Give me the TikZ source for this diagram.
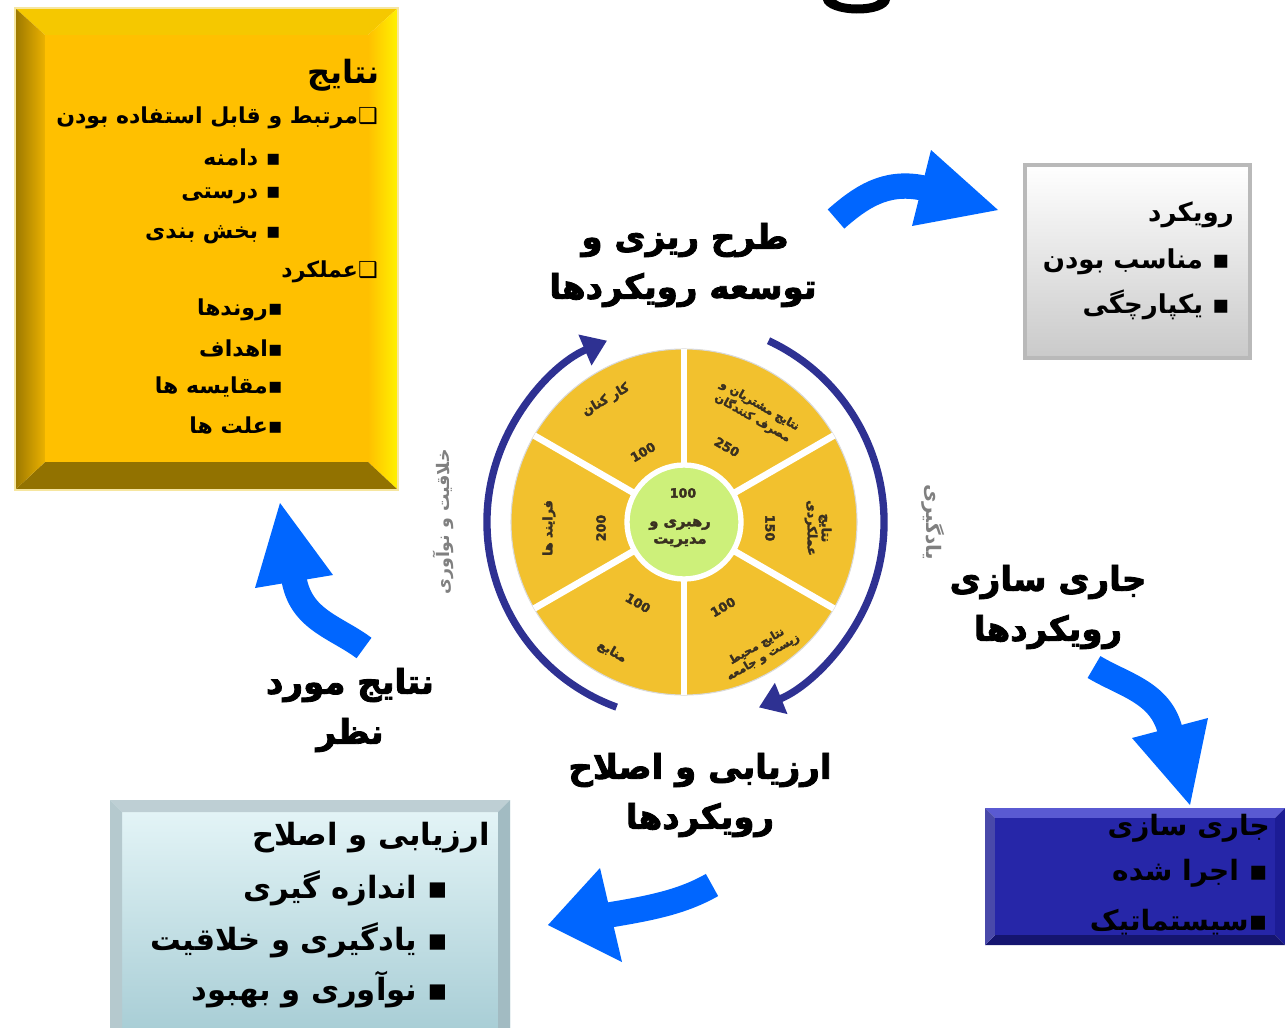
\documentclass[tikz,border=0pt]{standalone}
\usepackage{fontspec}
\usetikzlibrary{positioning, arrows.meta}
\TeXXeTstate=1
\newfontfamily\farsi[Script=Arabic]{DejaVu Sans}
\newfontfamily\farsiheavy[Script=Arabic, FakeBold=2.5]{DejaVu Sans Bold}
\newfontfamily\symb[BoldFont={DejaVu Sans}]{DejaVu Sans}
\newcommand{\fatxt}[1]{{\farsi\bfseries\beginR #1\endR}}
\newcommand{\heavytxt}[1]{{\farsiheavy\beginR #1\endR}}

\definecolor{goldfill}{HTML}{FFC000}
\definecolor{goldtop}{HTML}{F5C800}
\definecolor{goldleft}{HTML}{9C7800}
\definecolor{goldright}{HTML}{FFF200}
\definecolor{goldbottom}{HTML}{927200}
\definecolor{goldedge}{HTML}{F6E6A0}
\definecolor{bluefill}{HTML}{2626A8}
\definecolor{bluetop}{HTML}{5A5AD2}
\definecolor{blueside}{HTML}{1C1C95}
\definecolor{bluebottom}{HTML}{151570}
\definecolor{cyantop}{HTML}{E6F6F8}
\definecolor{cyanbottom}{HTML}{A9CED6}
\definecolor{cyanside}{HTML}{A2BBC2}
\definecolor{arrowblue}{HTML}{0066FF}
\definecolor{ringblue}{HTML}{2E3192}
\definecolor{wheelgold}{HTML}{F2C12E}
\definecolor{hubgreen}{HTML}{CDF07A}
\definecolor{wheelink}{HTML}{3A3020}

\tikzset{
boxtext/.style={anchor=east, inner sep=0pt, font=\fontsize{16.5}{19}\selectfont}, % lines in the boxes
bigtitle/.style={inner sep=0pt, font=\fontsize{25.5}{30}\selectfont}, % the four stage names
wheeltext/.style={inner sep=0pt, align=center, text=wheelink, font=\fontsize{9.5}{10.5}\selectfont},
sidetext/.style={inner sep=0pt, text=gray, font=\fontsize{13}{14}\selectfont},
spoke/.style={draw=white, line width=5pt},
cyclearc/.style={draw=ringblue, line width=5.5pt, -{Triangle[width=24pt,length=18pt]}},
blockband/.style={draw=arrowblue, line width=19pt}, % body of the big blue arrows
blockhead/.style={fill=arrowblue},
}

\begin{document}
\begin{tikzpicture}[x=0.75pt, y=-0.75pt] % one unit = one pixel, y downwards
\useasboundingbox (0,0) rectangle (1285,1028);

% cut title at the top
\fill (823,0) .. controls (826,17) and (887,19) .. (890,0) -- (878,0) .. controls (872,6) and (842,6) .. (836,0) -- cycle;

% results box
\fill[goldtop] (15,8) -- (398,8) -- (368,35) -- (45,35) -- cycle;
\shade[left color=goldfill, right color=goldright] (398,8) -- (398,490) -- (368,462) -- (368,35) -- cycle;
\fill[goldbottom] (15,490) -- (398,490) -- (368,462) -- (45,462) -- cycle;
\shade[left color=goldleft, right color=goldfill!80!goldleft] (15,8) -- (15,490) -- (45,462) -- (45,35) -- cycle;
\fill[goldfill] (45,35) rectangle (368,462);
\draw[goldedge, line width=2pt] (15,8) rectangle (398,490);

\node[boxtext, font=\fontsize{24}{28}\selectfont] (res) at (380,75) {\fatxt{نتایج}};
\node[boxtext] (rel) at (378,118) {\fatxt{{\symb ❑}مرتبط و قابل استفاده بودن}};
\node[boxtext] (dom) at (281,157) {\fatxt{▪ دامنه}};
\node[boxtext] (acc) at (281,196) {\fatxt{▪ درستی}};
\node[boxtext] (seg) at (281,235) {\fatxt{▪ بخش بندی}};
\node[boxtext] (perf) at (378,272) {\fatxt{{\symb ❑}عملکرد}};
\node[boxtext] (trend) at (283,310) {\fatxt{▪روندها}};
\node[boxtext] (goal) at (283,348) {\fatxt{▪اهداف}};
\node[boxtext] (comp) at (283,387) {\fatxt{▪مقایسه ها}};
\node[boxtext] (cause) at (283,425) {\fatxt{▪علت ها}};

% approach box
\shade[top color=white, bottom color=gray!42] (1025,165) rectangle (1250,358);
\draw[gray!55, line width=2.5pt] (1025,165) rectangle (1250,358);
\node[boxtext, font=\fontsize{19.5}{22}\selectfont] (appr) at (1234,215) {\fatxt{رویکرد}};
\node[boxtext, font=\fontsize{19.5}{22}\selectfont] (fit) at (1230,262) {\fatxt{▪ مناسب بودن}};
\node[boxtext, font=\fontsize{19.5}{22}\selectfont] (integ) at (1230,305) {\fatxt{▪ یکپارچگی}};

% deployment box
\fill[bluetop] (985,808) -- (1285,808) -- (1275,818) -- (995,818) -- cycle;
\fill[blueside] (1285,808) -- (1285,945) -- (1275,935) -- (1275,818) -- cycle;
\fill[bluebottom] (985,945) -- (1285,945) -- (1275,935) -- (995,935) -- cycle;
\fill[blueside!80!white] (985,808) -- (985,945) -- (995,935) -- (995,818) -- cycle;
\fill[bluefill] (995,818) rectangle (1275,935);
\node[boxtext, font=\fontsize{21}{24}\selectfont] (impl) at (1270,828) {\fatxt{جاری سازی}};
\node[boxtext, font=\fontsize{21}{24}\selectfont] (done) at (1268,873) {\fatxt{▪ اجرا شده}};
\node[boxtext, font=\fontsize{21}{24}\selectfont] (syst) at (1268,922) {\fatxt{▪سیستماتیک}};

% assessment box
\shade[top color=cyantop, bottom color=cyanbottom] (110,800) rectangle (510,1028);
\fill[cyanside!70!white] (110,800) -- (510,800) -- (498,812) -- (122,812) -- cycle;
\fill[cyanside] (510,800) -- (510,1028) -- (498,1028) -- (498,812) -- cycle;
\fill[cyanside!80!white] (110,800) -- (110,1028) -- (122,1028) -- (122,812) -- cycle;
\node[boxtext, font=\fontsize{23}{26}\selectfont] (assess) at (490,838) {\fatxt{ارزیابی و اصلاح}};
\node[boxtext, font=\fontsize{23}{26}\selectfont] (meas) at (449,888) {\fatxt{▪ اندازه گیری}};
\node[boxtext, font=\fontsize{23}{26}\selectfont] (learn) at (449,940) {\fatxt{▪ یادگیری و خلاقیت}};
\node[boxtext, font=\fontsize{23}{26}\selectfont] (innov) at (449,990) {\fatxt{▪ نوآوری و بهبود}};

% stage names
\node[bigtitle] (plan) at (685,240) {\heavytxt{طرح ریزی و}};
\node[bigtitle] (plan2) at (683,290) {\heavytxt{توسعه رویکردها}};
\node[bigtitle] (deploy) at (1048,582) {\heavytxt{جاری سازی}};
\node[bigtitle] (deploy2) at (1048,632) {\heavytxt{رویکردها}};
\node[bigtitle] (review) at (700,770) {\heavytxt{ارزیابی و اصلاح}};
\node[bigtitle] (review2) at (700,820) {\heavytxt{رویکردها}};
\node[bigtitle] (target) at (350,685) {\heavytxt{نتایج مورد}};
\node[bigtitle] (target2) at (350,735) {\heavytxt{نظر}};

% big blue arrows
\coordinate (a1) at (836,219); \coordinate (a1e) at (923,188);
\draw[blockband] (a1) .. controls (860,198) and (885,180) .. (a1e);
\fill[blockhead] (931,150) -- (998,210) -- (912,226) -- cycle;
\coordinate (a2) at (1094,667); \coordinate (a2e) at (1170,730);
\draw[blockband] (a2) .. controls (1124,685) and (1160,692) .. (a2e);
\fill[blockhead] (1132,738) -- (1208,718) -- (1190,805) -- cycle;
\coordinate (a3) at (712,885); \coordinate (a3e) at (609,915);
\draw[blockband] (a3) .. controls (682,902) and (651,908) .. (a3e);
\fill[blockhead] (600,868) -- (548,925) -- (622,962) -- cycle;
\coordinate (a4) at (364,648); \coordinate (a4e) at (294,579);
\draw[blockband] (a4) .. controls (336,627) and (301,620) .. (a4e);
\fill[blockhead] (255,588) -- (280,503) -- (333,575) -- cycle;

% wheel
\coordinate (c) at (684,522);
\draw[gray!30, fill=wheelgold, line width=0.8pt] (c) circle[radius=173];
\foreach \a in {30,90,...,330}
  \draw[spoke] (c) -- ++(\a:173);
\draw[white, fill=hubgreen, line width=4pt] (c) circle[radius=57];

\node[wheeltext] (hubn) at (683,493) {\farsiheavy 100};
\node[wheeltext, font=\fontsize{11}{12}\selectfont] (hub) at (680,533) {\heavytxt{رهبری و}\\[1pt]\heavytxt{مدیریت}};
\node[wheeltext, rotate=30] (staff) at (606,400) {\heavytxt{کار کنان}};
\node[wheeltext, rotate=30] (staffn) at (643,452) {\farsiheavy 100};
\node[wheeltext, rotate=-30, font=\fontsize{8.5}{9.5}\selectfont] (cust) at (756,412) {\heavytxt{نتایج مشتریان و}\\\heavytxt{مصرف کنندگان}};
\node[wheeltext, rotate=-30] (custn) at (727,447) {\farsiheavy 250};
\node[wheeltext, rotate=-90] (key) at (818,528) {\heavytxt{نتایج}\\\heavytxt{عملکردی}};
\node[wheeltext, rotate=-90] (keyn) at (770,528) {\farsiheavy 150};
\node[wheeltext, rotate=30, font=\fontsize{8.5}{9.5}\selectfont] (soc) at (760,652) {\heavytxt{نتایج محیط}\\\heavytxt{زیست و جامعه}};
\node[wheeltext, rotate=30] (socn) at (723,607) {\farsiheavy 100};
\node[wheeltext, rotate=-30] (resrc) at (612,652) {\heavytxt{منابع}};
\node[wheeltext, rotate=-30] (resrcn) at (638,603) {\farsiheavy 100};
\node[wheeltext, rotate=90] (proc) at (549,528) {\heavytxt{فرایند ها}};
\node[wheeltext, rotate=90] (procn) at (601,528) {\farsiheavy 200};

% cycle arrows round the wheel
\draw[cyclearc] (c) ++(110:197) arc[start angle=110, end angle=247, radius=197];
\draw[cyclearc] (c) ++(-65:200) arc[start angle=-65, end angle=68, radius=200];
\node[sidetext, rotate=90] (creat) at (443,522) {\fatxt{خلاقیت و نوآوری}};
\node[sidetext, rotate=-90, font=\fontsize{15}{16}\selectfont] (learnside) at (933,522) {\fatxt{یادگیری}};

\end{tikzpicture}
\end{document}
